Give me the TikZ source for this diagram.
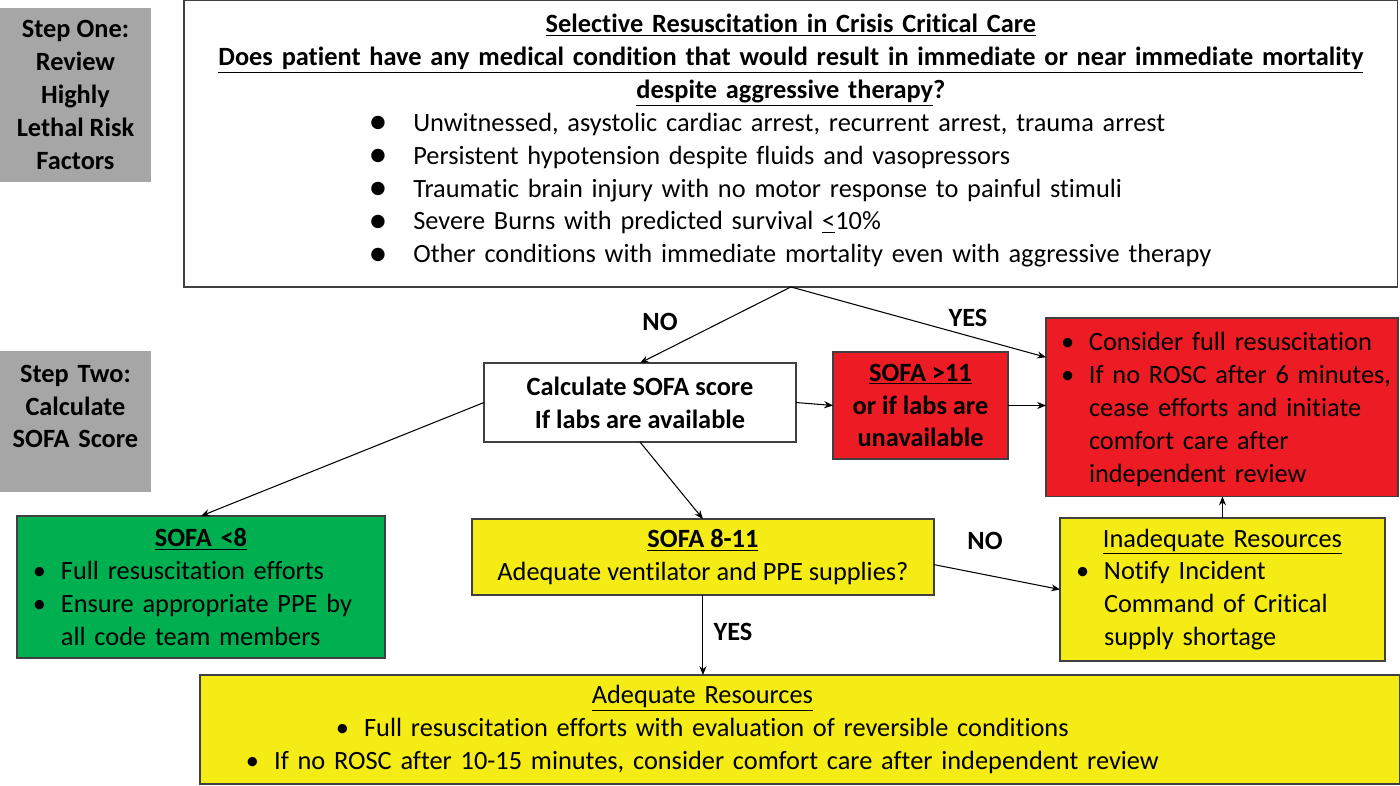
\documentclass[tikz,border=0pt]{standalone}
\usepackage{fontspec}
\setmainfont{Carlito}[RawFeature=-liga]
\newfontfamily\symfont{DejaVu Sans}
\usetikzlibrary{arrows.meta, calc}

\definecolor{stepgray}{RGB}{166,166,166}
\definecolor{critred}{RGB}{237,28,36}
\definecolor{okgreen}{RGB}{0,176,80}
\definecolor{warnyellow}{RGB}{245,236,22}

\newlength{\bind}
\setlength{\bind}{0.56cm}
\newcommand{\bitem}[1]{\par\noindent\hangindent=\bind\hangafter=1\makebox[\bind][l]{\textbullet}#1}
\newcommand{\dotmark}{\raisebox{2pt}{\symfont\fontsize{10}{10}\selectfont ●}}
\newcommand{\padbottom}[1]{\par\vspace*{#1}\hrule height 0pt width 0pt}

\tikzset{
  box/.style={draw=black!75, line width=0.8pt, inner sep=0pt, outer sep=0pt, anchor=north west, font=\fontsize{15}{18.7}\selectfont},
  stepbox/.style={box, draw=none, fill=stepgray, font=\fontsize{15}{18.7}\selectfont\bfseries, align=center},
  arr/.style={-{Stealth[length=5pt,width=4pt]}, line width=0.6pt},
  lbl/.style={font=\fontsize{15}{18.7}\selectfont\bfseries}
}

\begin{document}
\begin{tikzpicture}[x=0.02cm, y=-0.02cm]
\useasboundingbox (0,0) rectangle (1400,785);

% Step labels
\node[stepbox, minimum width=3.02cm, minimum height=3.48cm] (step1) at (0,8) {Step One:\\Review\\Highly\\Lethal Risk\\Factors};
\node[stepbox, minimum width=3.02cm, minimum height=2.82cm, text width=3.02cm] (step2) at (0,351) {Step Two:\\Calculate\\SOFA Score\padbottom{0.6cm}};

% Highly lethal risk factors
\node[box, minimum width=24.28cm, minimum height=5.74cm, text width=24.28cm, align=center] (lethal) at (184,0) {
{\bfseries\underline{Selective Resuscitation in Crisis Critical Care}\\
\underline{Does patient have any medical condition that would result in immediate or near immediate mortality}\\
\underline{despite aggressive therapy}?\par}
\begin{tabular}[t]{@{}l@{\hspace{0.55cm}}l@{}}
\dotmark & Unwitnessed, asystolic cardiac arrest, recurrent arrest, trauma arrest\\
\dotmark & Persistent hypotension despite fluids and vasopressors\\
\dotmark & Traumatic brain injury with no motor response to painful stimuli\\
\dotmark & Severe Burns with predicted survival \underline{<}10\%\\
\dotmark & Other conditions with immediate mortality even with aggressive therapy
\end{tabular}};

% SOFA score
\node[box, minimum width=6.24cm, minimum height=1.58cm, align=center, font=\fontsize{15}{18.7}\selectfont\bfseries] (calc) at (484,363) {Calculate SOFA score\\If labs are available};

\node[box, fill=critred, minimum width=3.5cm, minimum height=2.14cm, align=center, font=\fontsize{15}{18.7}\selectfont\bfseries] (high) at (833,352) {\underline{SOFA >11}\\or if labs are\\unavailable};

\node[box, fill=critred, minimum width=7.04cm, minimum height=3.48cm, inner xsep=0.1cm, text width=6.84cm, align=left] (cease) at (1046,318) {\leftskip=0.2cm
\bitem{Consider full resuscitation}
\bitem{If no ROSC after 6 minutes,\newline cease efforts and initiate\newline comfort care after\newline independent review}\padbottom{0.2cm}};

\node[box, fill=okgreen, minimum width=7.36cm, minimum height=2.84cm, inner xsep=0.32cm, text width=6.72cm, align=left] (low) at (17,516) {
\centerline{\bfseries\underline{SOFA <8}}
\bitem{Full resuscitation efforts}
\bitem{Ensure appropriate PPE by\newline all code team members}\par};

\node[box, fill=warnyellow, minimum width=9.24cm, minimum height=1.52cm, align=center] (mid) at (472,519) {\textbf{\underline{SOFA 8-11}}\\Adequate ventilator and PPE supplies?};

\node[box, fill=warnyellow, minimum width=6.5cm, minimum height=2.86cm, inner xsep=0.32cm, text width=5.86cm, align=left] (inad) at (1060,518) {
\centerline{\underline{Inadequate Resources}}
\bitem{Notify Incident\newline Command of Critical\newline supply shortage}\par};

\node[box, fill=warnyellow, minimum width=24cm, minimum height=2.18cm, text width=24cm] (adeq) at (200,675) {
{\leftskip=0pt plus 1fil\rightskip=3.9cm plus 1fil\parfillskip=0pt\parindent=0pt
\underline{Adequate Resources}\\
\textbullet\hspace{0.3cm}Full resuscitation efforts with evaluation of reversible conditions\\
\textbullet\hspace{0.3cm}If no ROSC after 10-15 minutes, consider comfort care after independent review\par}};

% Answers
\node[lbl] (no1) at (660,322) {NO};
\node[lbl] (yes1) at (968,318) {YES};
\node[lbl] (no2) at (985,541) {NO};
\node[lbl] (yes2) at (733,632) {YES};

% Connectors
\draw[arr] (lethal.south) -- (calc.north);
\draw[arr] (lethal.south) -- ($(cease.north west)!0.22!(cease.south west)$);
\draw[arr] (calc.east) -- (high.west);
\draw[arr] (high.east) -- (high.east -| cease.west);
\draw[arr] (calc.west) -- (low.north);
\draw[arr] (calc.south) -- (mid.north);
\draw[arr] (mid.south) -- (mid.south |- adeq.north);
\draw[arr] ($(mid.north east)!0.6!(mid.south east)$) -- (inad.west);
\draw[arr] (inad.north) -- (inad.north |- cease.south);
\end{tikzpicture}
\end{document}
